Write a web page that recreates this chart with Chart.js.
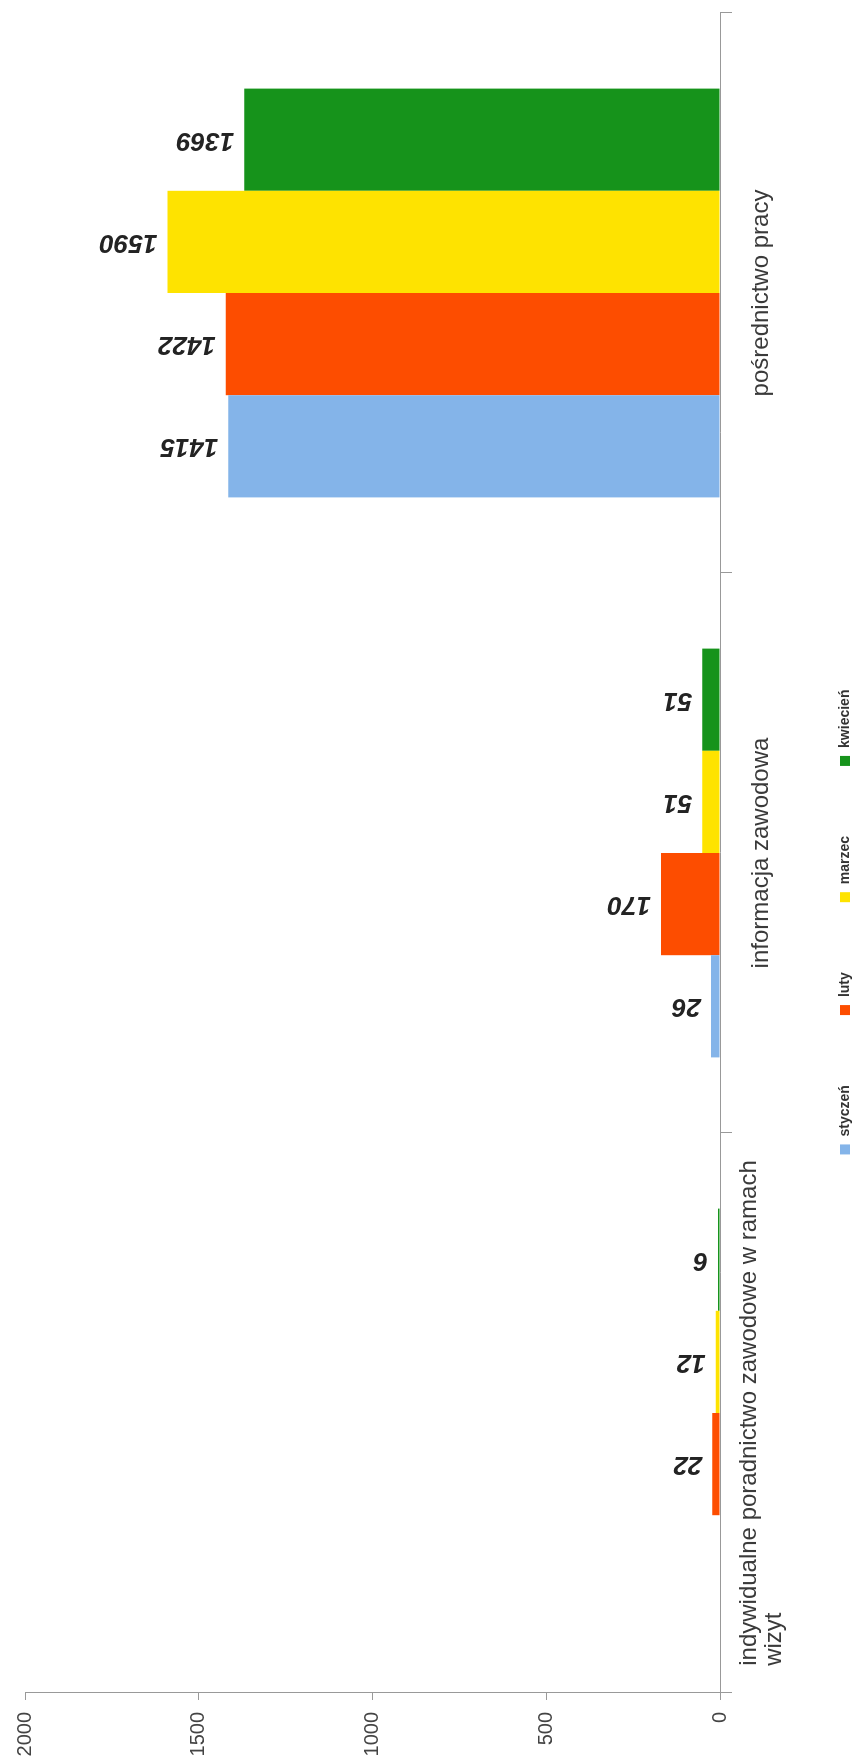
<!DOCTYPE html>
<html>
<head>
<meta charset="utf-8">
<script src="https://cdn.jsdelivr.net/npm/chart.js@4.4.1/dist/chart.umd.min.js"></script>
<style>
  html, body { margin: 0; padding: 0; background: #fff; overflow: hidden; }
  /* wykres jest obrócony o 90 stopni jak w skanie */
  #wrap {
    position: absolute; left: 0; top: 0;
    width: 1762px; height: 859px;
    transform-origin: 0 0;
    transform: translate(0, 1762px) rotate(-90deg);
  }
</style>
</head>
<body>
<div id="wrap"><canvas id="usługiChart" width="1762" height="859"></canvas></div>
<script>
'use strict'

const categories = [['indywidualne poradnictwo zawodowe w ramach', 'wizyt'], 'informacja zawodowa', 'pośrednictwo pracy'];
const months = ['styczeń', 'luty', 'marzec', 'kwiecień'];
const styczen = [null, 26, 1415];
const luty = [22, 170, 1422];
const marzec = [12, 51, 1590];
const kwiecien = [6, 51, 1369];
const yTicks = [0, 500, 1000, 1500, 2000];

const colors = ['#84b4e9', '#fd4d00', '#fee300', '#16931b'];
const fontName = '"Liberation Sans", Arial, sans-serif';

// wartości nad słupkami (odwrócone)
const barLabels = {
  id: 'barLabels',
  afterDatasetsDraw(chart) {
    const c = chart.ctx;
    c.save();
    c.font = 'italic bold 26px ' + fontName;
    c.fillStyle = '#232323';
    c.textAlign = 'left';
    c.textBaseline = 'middle';
    chart.data.datasets.forEach((ds, i) => {
      chart.getDatasetMeta(i).data.forEach((bar, j) => {
        if (ds.data[j] == null) return;
        c.save();
        c.translate(bar.x, bar.y - 10);
        c.rotate(-Math.PI / 2);
        c.fillText(ds.data[j], 0, 0);
        c.restore();
      });
    });
    c.restore();
  }
};

// etykiety kategorii wyrównane do lewej + legenda
const labelsAndLegend = {
  id: 'labelsAndLegend',
  afterDraw(chart) {
    const c = chart.ctx;
    const xs = chart.scales.x;
    const area = chart.chartArea;
    c.save();
    c.font = '24px ' + fontName;
    c.fillStyle = '#3a3a3a';
    c.textAlign = 'left';
    c.textBaseline = 'alphabetic';
    categories.forEach((label, i) => {
      const lines = Array.isArray(label) ? label : [label];
      const cx = xs.getPixelForTick(i);
      const w = Math.max(...lines.map(l => c.measureText(l).width));
      lines.forEach((l, k) => {
        c.fillText(l, cx - w / 2, area.bottom + 48 + (k - (lines.length - 1) / 2) * 25);
      });
    });

    c.font = 'bold 14px ' + fontName;
    c.textBaseline = 'middle';
    const gap = 70;
    const widths = months.map(m => 18 + c.measureText(m).width);
    const total = widths.reduce((a, b) => a + b, 0) + gap * (months.length - 1);
    let x = 840 - total / 2;
    const y = 845;
    chart.data.datasets.forEach((ds, i) => {
      c.fillStyle = ds.backgroundColor;
      c.fillRect(x, y - 5, 10, 10);
      c.fillStyle = '#333';
      c.fillText(ds.label, x + 18, y);
      x += widths[i] + gap;
    });
    c.restore();
  }
};

const ctx = document.getElementById('usługiChart');
const myChart = new Chart(ctx, {
  type: 'bar',
  data: {
    labels: categories,
    datasets: [styczen, luty, marzec, kwiecien].map((values, i) => ({
      label: months[i],
      data: values,
      backgroundColor: colors[i],
      borderWidth: 0,
      categoryPercentage: 0.73,
      barPercentage: 1.0
    }))
  },
  options: {
    responsive: false,
    animation: false,
    layout: {
      padding: { top: 25, right: 13, left: 0, bottom: 0 }
    },
    scales: {
      x: {
        grid: {
          drawOnChartArea: false,
          tickLength: 12,
          color: '#999'
        },
        border: { color: '#999' },
        ticks: { display: false },
        afterFit: function(scale) {
          scale.height = 139;
        }
      },
      y: {
        min: yTicks[0],
        max: yTicks[yTicks.length - 1],
        grid: {
          drawOnChartArea: false,
          tickLength: 7,
          color: '#999'
        },
        border: { color: '#999' },
        ticks: {
          padding: 12,
          color: '#444',
          font: { size: 20, family: fontName },
          callback: function(value) {
            return String(value);
          }
        },
        afterBuildTicks: function(scale) {
          scale.ticks = yTicks.map(v => ({ value: v }));
        },
        afterFit: function(scale) {
          scale.width = 69;
        }
      }
    },
    plugins: {
      legend: { display: false },
      tooltip: { enabled: false }
    }
  },
  plugins: [barLabels, labelsAndLegend]
});
</script>
</body>
</html>
